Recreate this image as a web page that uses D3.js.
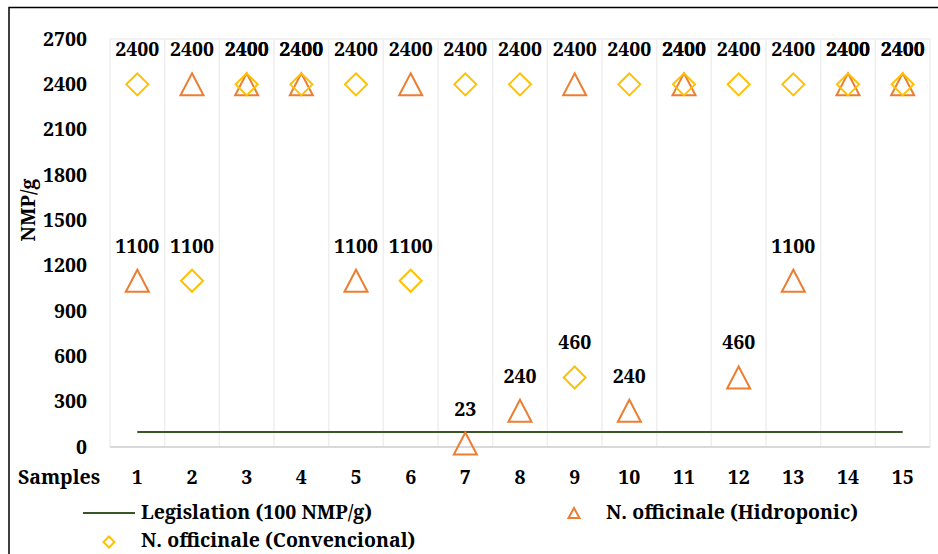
<!DOCTYPE html>
<html>
<head>
<meta charset="utf-8">
<script src="https://cdn.jsdelivr.net/npm/d3@7"></script>
<style>
  body { margin: 0; background: #fff; }
</style>
</head>
<body>
<svg id="chart" width="938" height="554"></svg>
<script>
// samples 1..15
const samples = d3.range(1, 16);
// N. officinale (Convencional) - diamonds
const convencional = [2400, 1100, 2400, 2400, 2400, 1100, 2400, 2400, 460, 2400, 2400, 2400, 2400, 2400, 2400];
// N. officinale (Hidroponic) - triangles
const hidroponic = [1100, 2400, 2400, 2400, 1100, 2400, 23, 240, 2400, 240, 2400, 460, 1100, 2400, 2400];
// legislation limit (NMP/g)
const legislation = 100;
const yTicks = d3.range(0, 2701, 300);

const width = 938, height = 554;
const marginLeft = 110, marginRight = 8, marginTop = 39, marginBottom = 107;
const FONT = '"Noto Serif", "Liberation Serif", serif';
const FS = 19.5;

const svg = d3.select("#chart")
    .attr("font-family", FONT)
    .attr("font-weight", "bold");

// outer frame
svg.append("rect")
    .attr("x", 9).attr("y", 7.5)
    .attr("width", 940).attr("height", 560)
    .attr("fill", "none").attr("stroke", "#000").attr("stroke-width", 1.5);

const x = d3.scaleBand()
    .domain(samples)
    .range([marginLeft, width - marginRight]);

const y = d3.scaleLinear()
    .domain([0, 2700])
    .range([height - marginBottom, marginTop]);

// vertical grid at the band edges
const edges = samples.map(d => x(d)).concat([x.range()[1]]);
svg.append("g")
  .selectAll("line")
  .data(edges)
  .join("line")
    .attr("x1", d => d).attr("x2", d => d)
    .attr("y1", marginTop).attr("y2", y(0))
    .attr("stroke", "#eeeeee").attr("stroke-width", 1.5);

svg.append("line")
    .attr("x1", marginLeft).attr("x2", x.range()[1])
    .attr("y1", marginTop).attr("y2", marginTop)
    .attr("stroke", "#eeeeee").attr("stroke-width", 1.5);

// base line
svg.append("line")
    .attr("x1", marginLeft).attr("x2", x.range()[1])
    .attr("y1", y(0)).attr("y2", y(0))
    .attr("stroke", "#d9d9d9").attr("stroke-width", 2);

// y axis
svg.append("g")
    .attr("transform", `translate(${marginLeft},0)`)
    .call(d3.axisLeft(y).tickValues(yTicks).tickFormat(d3.format("d")).tickSize(0).tickPadding(23))
    .call(g => g.select(".domain").remove())
    .call(g => g.attr("font-family", null).attr("font-size", null))
    .call(g => g.selectAll("text").attr("font-size", FS).attr("fill", "#000"));

// x axis
svg.append("g")
    .attr("transform", `translate(0,${y(0)})`)
    .call(d3.axisBottom(x).tickSize(0).tickPadding(0))
    .call(g => g.select(".domain").remove())
    .call(g => g.attr("font-family", null).attr("font-size", null))
    .call(g => g.selectAll("text").attr("font-size", FS).attr("fill", "#000")
        .attr("dy", null).attr("y", 37));

svg.append("text")
    .attr("x", 59).attr("y", y(0) + 37)
    .attr("text-anchor", "middle")
    .attr("font-size", FS)
    .text("Samples");

svg.append("text")
    .attr("transform", "translate(35,210) rotate(-90)")
    .attr("text-anchor", "middle")
    .attr("font-size", FS)
    .text("NMP/g");

// legislation line
const cx = i => x(samples[i]) + x.bandwidth() / 2;
svg.append("line")
    .attr("x1", cx(0))
    .attr("x2", cx(samples.length - 1))
    .attr("y1", y(legislation)).attr("y2", y(legislation))
    .attr("stroke", "#375623").attr("stroke-width", 2);

const tri = (w, h) => `M0,${-h / 2}L${w / 2},${h / 2}L${-w / 2},${h / 2}Z`;
const diamond = s => `M0,${-s}L${s},0L0,${s}L${-s},0Z`;

// hidroponic triangles
svg.append("g")
  .selectAll("path")
  .data(hidroponic)
  .join("path")
    .attr("transform", (d, i) => `translate(${cx(i)},${y(d)})`)
    .attr("d", tri(23, 22))
    .attr("fill", "none").attr("stroke", "#ED7D31").attr("stroke-width", 2);

// convencional diamonds
svg.append("g")
  .selectAll("path")
  .data(convencional)
  .join("path")
    .attr("transform", (d, i) => `translate(${cx(i)},${y(d)})`)
    .attr("d", diamond(11))
    .attr("fill", "none").attr("stroke", "#FFC000").attr("stroke-width", 2);

// data labels (both series)
const labels = hidroponic.map((d, i) => ({ i, v: d }))
    .concat(convencional.map((d, i) => ({ i, v: d })));
svg.append("g")
  .selectAll("text")
  .data(labels)
  .join("text")
    .attr("x", d => cx(d.i))
    .attr("y", d => y(d.v) - 28)
    .attr("text-anchor", "middle")
    .attr("font-size", FS)
    .text(d => d.v);

// legend
const lg = svg.append("g").attr("font-size", FS);
lg.append("line")
    .attr("x1", 83).attr("x2", 135).attr("y1", 513).attr("y2", 513)
    .attr("stroke", "#375623").attr("stroke-width", 2);
lg.append("text").attr("x", 141).attr("y", 519)
    .text("Legislation (100 NMP/g)");

lg.append("path")
    .attr("transform", "translate(574,513)")
    .attr("d", tri(11, 10))
    .attr("fill", "none").attr("stroke", "#ED7D31").attr("stroke-width", 2);
lg.append("text").attr("x", 606).attr("y", 519)
    .text("N. officinale (Hidroponic)");

lg.append("path")
    .attr("transform", "translate(109,542)")
    .attr("d", diamond(5.5))
    .attr("fill", "none").attr("stroke", "#FFC000").attr("stroke-width", 2);
lg.append("text").attr("x", 141).attr("y", 547)
    .text("N. officinale (Convencional)");
</script>
</body>
</html>
